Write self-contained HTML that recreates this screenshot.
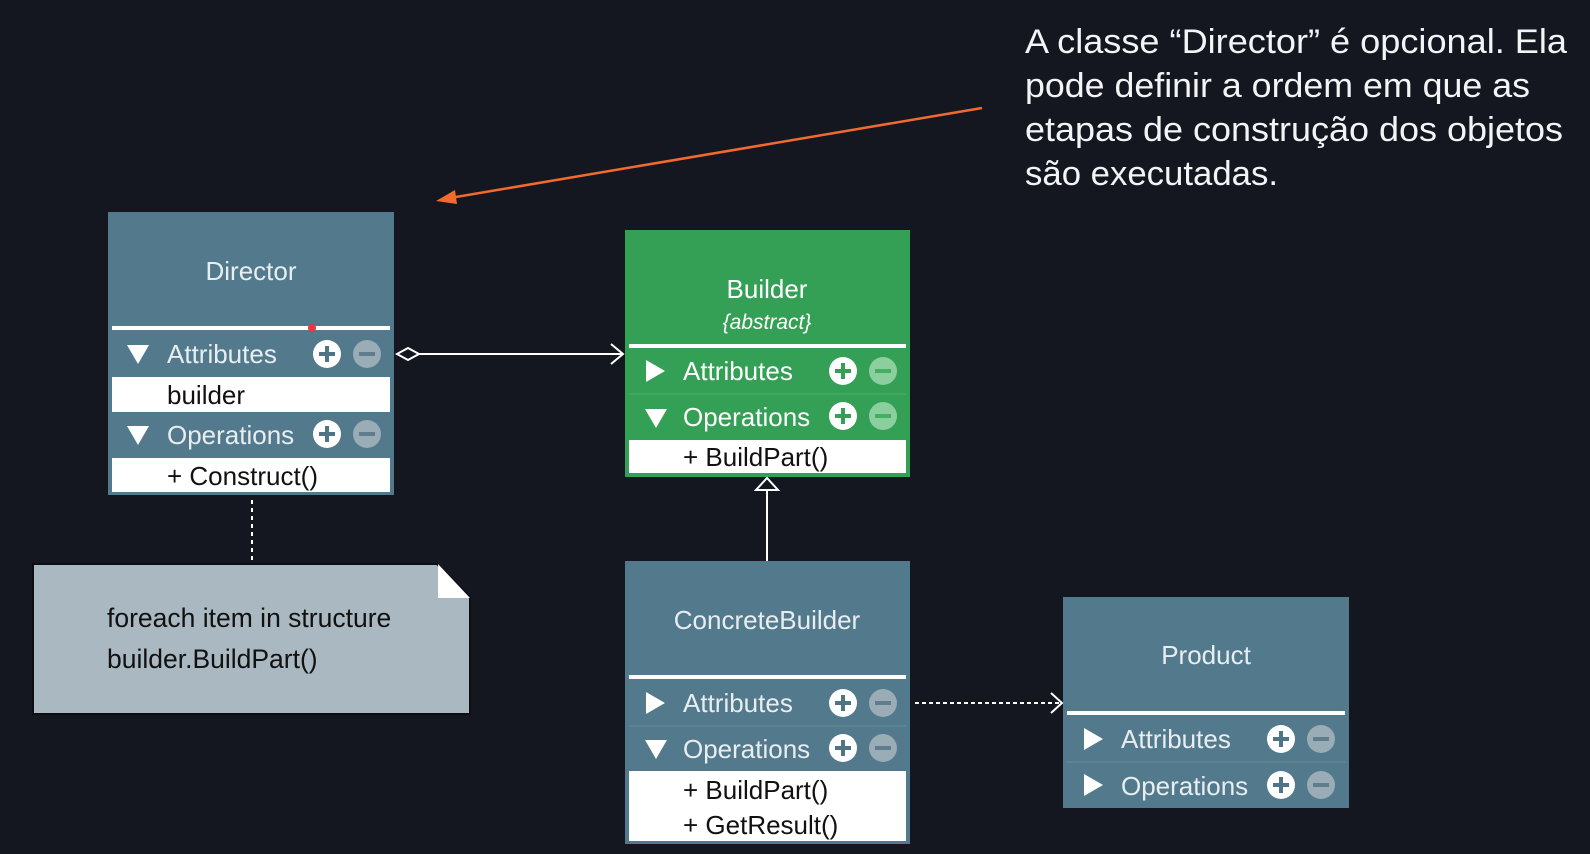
<!DOCTYPE html>
<html><head><meta charset="utf-8"><style>
html,body{margin:0;padding:0;background:#141720;}
svg{display:block}
text{font-family:"Liberation Sans",sans-serif;}
</style></head><body>
<svg width="1590" height="854" viewBox="0 0 1590 854" xmlns="http://www.w3.org/2000/svg">
<defs>
<g id="plus"><circle r="14" fill="#fff"/><rect x="-8" y="-2" width="16" height="4" fill="#4f7486"/><rect x="-2" y="-8" width="4" height="16" fill="#4f7486"/></g>
<g id="minus"><circle r="14" fill="#9aacb6"/><rect x="-8" y="-2" width="16" height="4" fill="#5f7d8c"/></g>
<g id="plusg"><circle r="14" fill="#fff"/><rect x="-8" y="-2" width="16" height="4" fill="#34a055"/><rect x="-2" y="-8" width="4" height="16" fill="#34a055"/></g>
<g id="minusg"><circle r="14" fill="#8ccf9e"/><rect x="-8" y="-2" width="16" height="4" fill="#46ad65"/></g>
</defs>
<rect width="1590" height="854" fill="#141720"/>

<g fill="#f2f4f6" font-size="34">
<text x="1025" y="53" textLength="542" lengthAdjust="spacingAndGlyphs">A classe “Director” é opcional. Ela</text>
<text x="1025" y="97" textLength="505" lengthAdjust="spacingAndGlyphs">pode definir a ordem em que as</text>
<text x="1025" y="141" textLength="538" lengthAdjust="spacingAndGlyphs">etapas de construção dos objetos</text>
<text x="1025" y="185" textLength="253" lengthAdjust="spacingAndGlyphs">são executadas.</text>
</g>
<line x1="982" y1="108" x2="450" y2="198" stroke="#f26a2e" stroke-width="2.5"/>
<polygon points="436,201 455,190 457,204" fill="#f26a2e"/>

<rect x="108" y="212" width="286" height="283" fill="#537a8c"/>
<text x="251" y="280" font-size="26" fill="#e8eef0" text-anchor="middle">Director</text>
<rect x="112" y="326" width="278" height="4" fill="#fff"/>
<circle cx="312" cy="328" r="4" fill="#ee3344"/>
<polygon points="127,345 149,345 138,364" fill="#fff"/>
<text x="167" y="363" font-size="26" fill="#e8eef0">Attributes</text>
<use href="#plus" x="327" y="354"/><use href="#minus" x="367" y="354"/>
<rect x="112" y="377" width="278" height="35" fill="#fff"/>
<text x="167" y="404" font-size="26" fill="#111">builder</text>
<polygon points="127,426 149,426 138,445" fill="#fff"/>
<text x="167" y="444" font-size="26" fill="#e8eef0">Operations</text>
<use href="#plus" x="327" y="434"/><use href="#minus" x="367" y="434"/>
<rect x="112" y="458" width="278" height="34" fill="#fff"/>
<text x="167" y="485" font-size="26" fill="#111">+ Construct()</text>

<line x1="419" y1="354" x2="623" y2="354" stroke="#fff" stroke-width="2"/>
<polygon points="397,354 408,348 419,354 408,360" fill="#141720" stroke="#fff" stroke-width="2"/>
<polyline points="611,344 623,354 611,364" fill="none" stroke="#fff" stroke-width="2"/>

<rect x="625" y="230" width="285" height="247" fill="#34a055"/>
<text x="767" y="298" font-size="26" fill="#fff" text-anchor="middle">Builder</text>
<text x="767" y="329" font-size="21" font-style="italic" fill="#fff" text-anchor="middle">{abstract}</text>
<rect x="629" y="344" width="277" height="4" fill="#fff"/>
<polygon points="646,360 646,382 665,371" fill="#fff"/>
<text x="683" y="380" font-size="26" fill="#fff">Attributes</text>
<use href="#plusg" x="843" y="371"/><use href="#minusg" x="883" y="371"/>
<line x1="629" y1="394" x2="906" y2="394" stroke="#4cb06a" stroke-width="1"/>
<polygon points="645,409 667,409 656,428" fill="#fff"/>
<text x="683" y="426" font-size="26" fill="#fff">Operations</text>
<use href="#plusg" x="843" y="416"/><use href="#minusg" x="883" y="416"/>
<rect x="629" y="440" width="277" height="33" fill="#fff"/>
<text x="683" y="466" font-size="26" fill="#111">+ BuildPart()</text>

<line x1="767" y1="490" x2="767" y2="561" stroke="#fff" stroke-width="2"/>
<polygon points="767,478 756,490 778,490" fill="#141720" stroke="#fff" stroke-width="2"/>

<rect x="625" y="561" width="285" height="283" fill="#537a8c"/>
<text x="767" y="629" font-size="26" fill="#e8eef0" text-anchor="middle">ConcreteBuilder</text>
<rect x="629" y="675" width="277" height="4" fill="#fff"/>
<polygon points="646,692 646,714 665,703" fill="#fff"/>
<text x="683" y="712" font-size="26" fill="#e8eef0">Attributes</text>
<use href="#plus" x="843" y="703"/><use href="#minus" x="883" y="703"/>
<line x1="629" y1="726" x2="906" y2="726" stroke="#6a8d9d" stroke-width="1"/>
<polygon points="645,740 667,740 656,759" fill="#fff"/>
<text x="683" y="758" font-size="26" fill="#e8eef0">Operations</text>
<use href="#plus" x="843" y="748"/><use href="#minus" x="883" y="748"/>
<rect x="629" y="771" width="277" height="70" fill="#fff"/>
<text x="683" y="799" font-size="26" fill="#111">+ BuildPart()</text>
<text x="683" y="834" font-size="26" fill="#111">+ GetResult()</text>

<line x1="915" y1="703" x2="1061" y2="703" stroke="#fff" stroke-width="2" stroke-dasharray="4,3"/>
<polyline points="1051,693 1062,703 1051,713" fill="none" stroke="#fff" stroke-width="2"/>

<rect x="1063" y="597" width="286" height="211" fill="#537a8c"/>
<text x="1206" y="664" font-size="26" fill="#e8eef0" text-anchor="middle">Product</text>
<rect x="1067" y="711" width="278" height="4" fill="#fff"/>
<polygon points="1084,728 1084,750 1103,739" fill="#fff"/>
<text x="1121" y="748" font-size="26" fill="#e8eef0">Attributes</text>
<use href="#plus" x="1281" y="739"/><use href="#minus" x="1321" y="739"/>
<line x1="1067" y1="762" x2="1345" y2="762" stroke="#6a8d9d" stroke-width="1"/>
<polygon points="1084,774 1084,796 1103,785" fill="#fff"/>
<text x="1121" y="795" font-size="26" fill="#e8eef0">Operations</text>
<use href="#plus" x="1281" y="785"/><use href="#minus" x="1321" y="785"/>

<line x1="252" y1="500" x2="252" y2="560" stroke="#fff" stroke-width="2" stroke-dasharray="4,4"/>
<polygon points="33,564 437,564 470,597 470,714 33,714" fill="#a9b8c1" stroke="#0c0e12" stroke-width="2"/>
<polygon points="438,564 470,598 438,598" fill="#fff"/>
<text x="107" y="627" font-size="26.5" fill="#111">foreach item in structure</text>
<text x="107" y="668" font-size="26.5" fill="#111">builder.BuildPart()</text>
</svg>
</body></html>
